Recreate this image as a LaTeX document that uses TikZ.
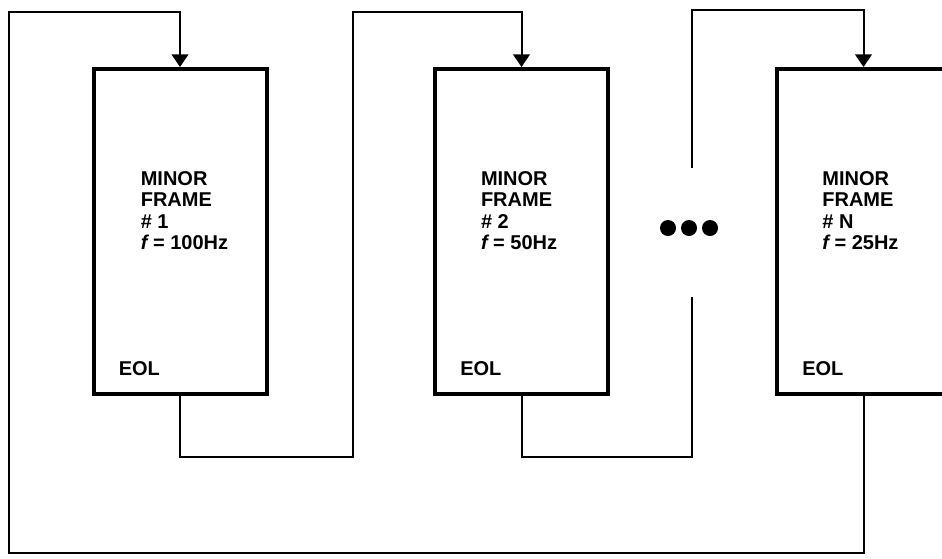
\documentclass[tikz,border=0pt]{standalone}
\usepackage{fontspec}
\setsansfont{Liberation Sans}
\usetikzlibrary{arrows.meta,positioning}
\tikzset{
  framebox/.style={draw=black, line width=3pt, minimum width=129.75pt, minimum height=243.75pt, inner sep=0pt},
  frametext/.style={align=left, inner sep=0pt, outer sep=0pt, font=\sffamily\bfseries\fontsize{15pt}{16pt}\selectfont},
  link/.style={line width=1.5pt},
  linkarrow/.style={-{Triangle[length=9.5pt,width=12.5pt]}, line width=1.5pt},
  dot/.style={circle, fill=black, minimum size=12pt, inner sep=0pt}
}
\begin{document}
\begin{tikzpicture}[x=0.75pt, y=-0.75pt]
\useasboundingbox (0,0) rectangle (942,558);
\clip (0,0) rectangle (942,558);
% minor frames
\node[framebox] (f1) at (180,231.5) {};
\node[framebox] (f2) at (521.5,231.5) {};
\node[framebox] (f3) at (863.5,231.5) {};
\node[frametext, below right=78.5pt and 37pt of f1.north west] (t1) {MINOR\\FRAME\\\# 1\\{\itshape f} = 100Hz};
\node[frametext, below right=78.5pt and 36pt of f2.north west] (t2) {MINOR\\FRAME\\\# 2\\{\itshape f} = 50Hz};
\node[frametext, below right=78.5pt and 35.5pt of f3.north west] (t3) {MINOR\\FRAME\\\# N\\{\itshape f} = 25Hz};
\node[frametext, above right=15.4pt and 20.5pt of f1.south west] (e1) {EOL};
\node[frametext, above right=15.4pt and 20.5pt of f2.south west] (e2) {EOL};
\node[frametext, above right=15.4pt and 20.5pt of f3.south west] (e3) {EOL};
% ellipsis
\node[dot] (d1) at (668,228) {};
\node[dot] (d2) at (689,228) {};
\node[dot] (d3) at (710,228) {};
% turning points
\coordinate (loopB) at (9,553);
\coordinate (loopT) at (9,12);
\coordinate (r1B) at (353,457);
\coordinate (r1T) at (353,12);
\coordinate (r2B) at (692,457);
\coordinate (gapL) at (692,297);
\coordinate (gapU) at (692,168);
\coordinate (r2T) at (692,10);
% connectors
\draw[linkarrow] (f3.south) |- (loopB) -- (loopT) -| (f1.north);
\draw[linkarrow] (f1.south) |- (r1B) -- (r1T) -| (f2.north);
\draw[link] (f2.south) |- (r2B) -- (gapL);
\draw[linkarrow] (gapU) -- (r2T) -| (f3.north);
\end{tikzpicture}
\end{document}
